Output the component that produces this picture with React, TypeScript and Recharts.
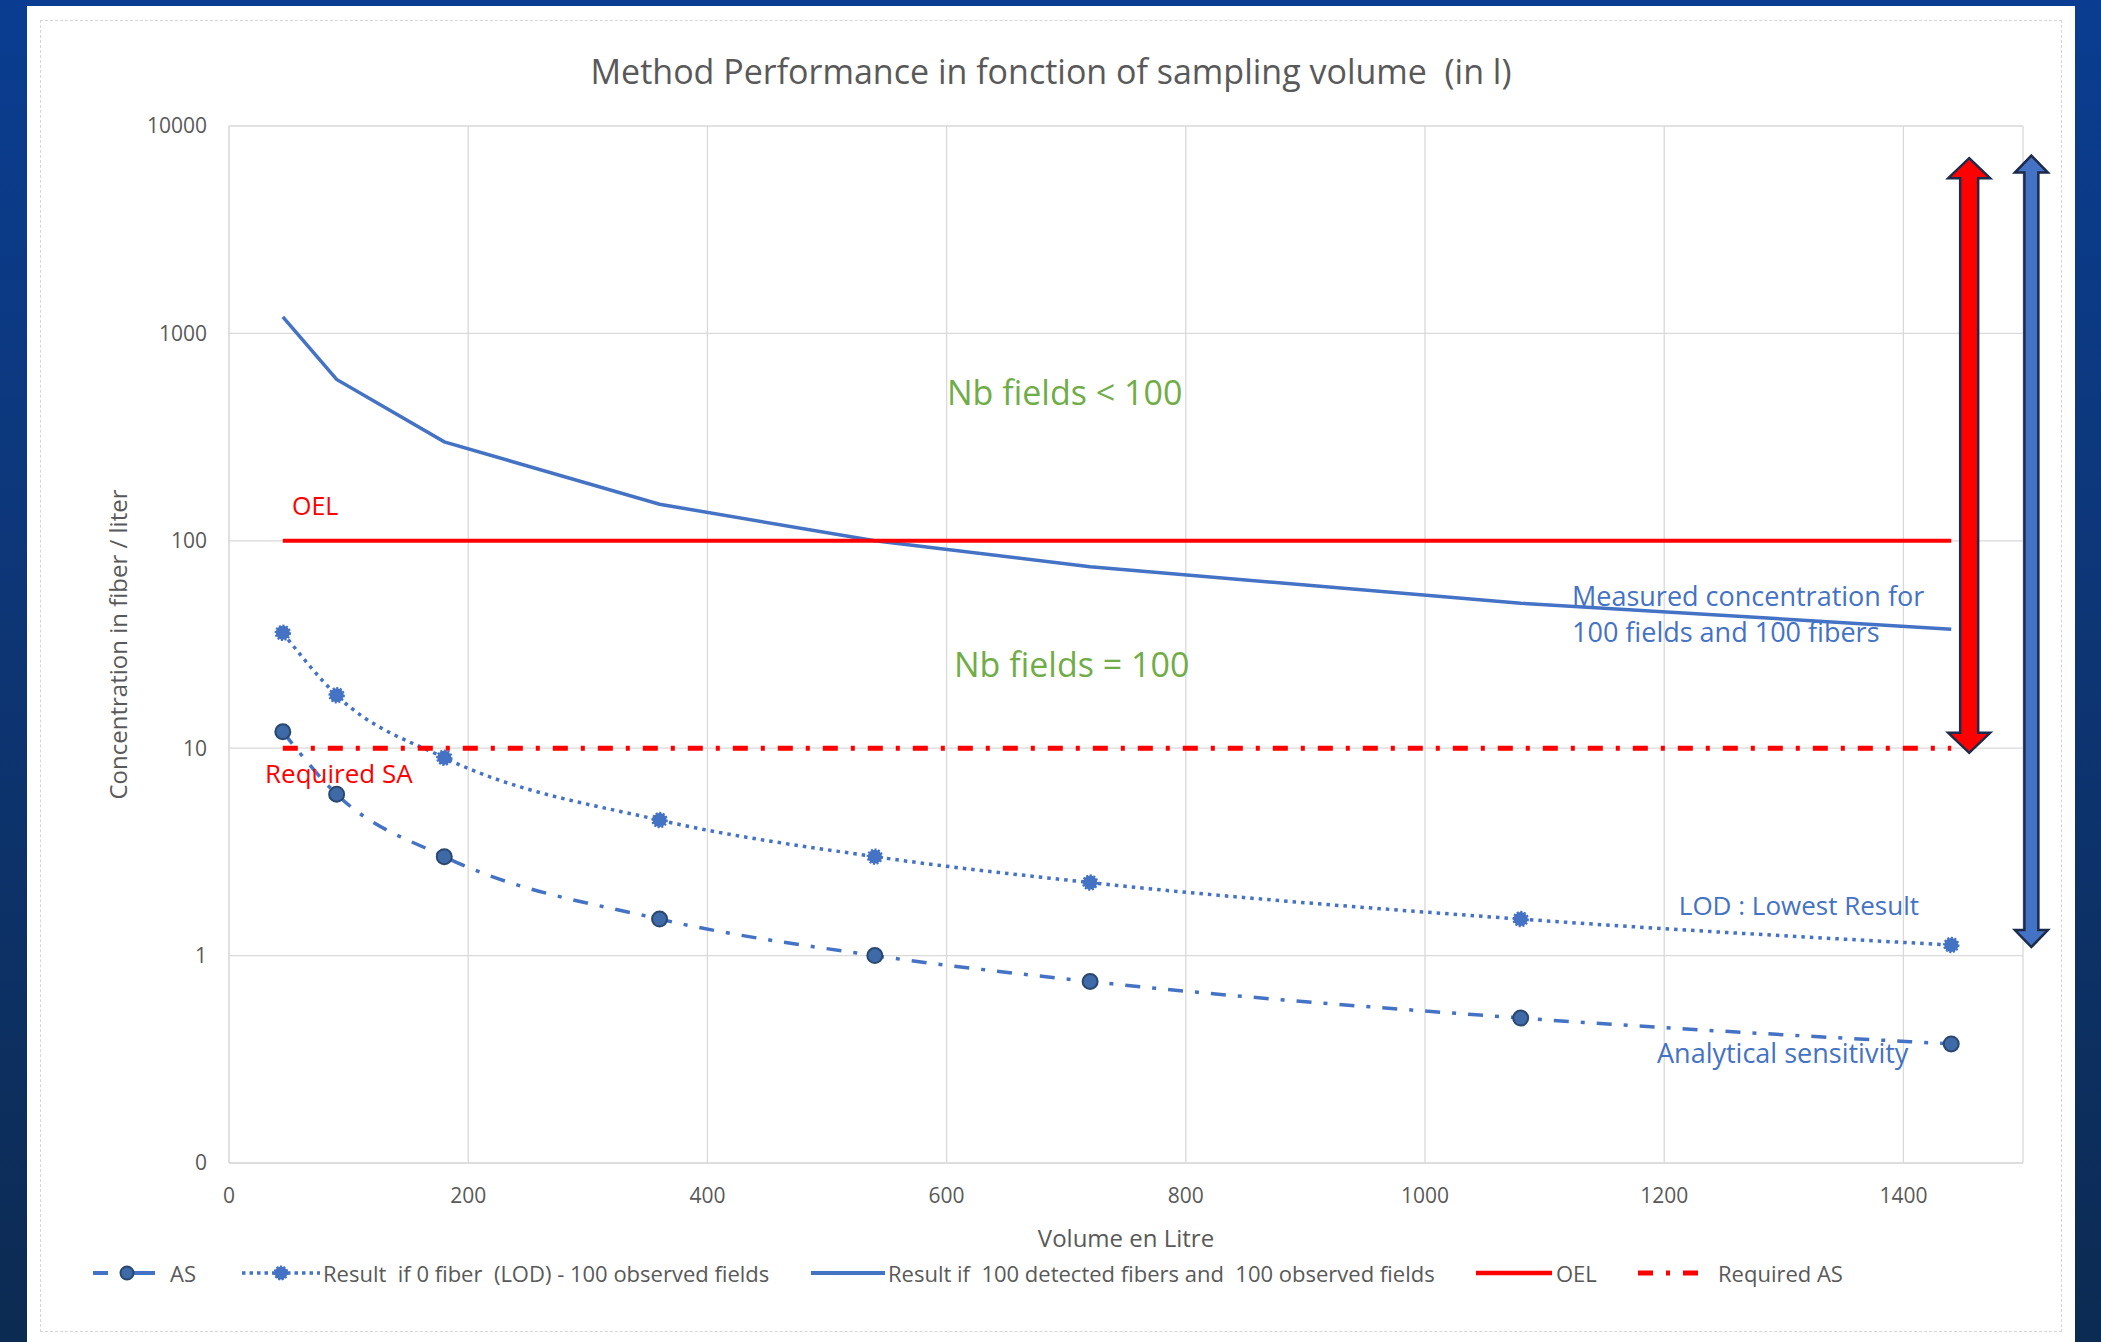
import React from 'react';
import { LineChart, Line, XAxis, YAxis, CartesianGrid, Legend, ReferenceLine } from 'recharts';

const FONT = '"Open Sans", "Noto Sans", sans-serif';
const BLUE = '#4472C4';
const RED = '#FF0000';
const GREEN = '#70AD47';
const GREY = '#595959';

// sampling volumes (l)
const volumes = [45, 90, 180, 360, 540, 720, 1080, 1440];
// concentrations (fiber / l)
const asValues = [12, 6, 3, 1.5, 1, 0.75, 0.5, 0.375];
const lodValues = [36, 18, 9, 4.5, 3, 2.25, 1.5, 1.125];
const measuredValues = [1200, 600, 300, 150, 100, 75, 50, 37.5];
const oelValues = [100, 100, 100, 100, 100, 100, 100, 100];
const requiredAsValues = [10, 10, 10, 10, 10, 10, 10, 10];

const xTicks = [0, 200, 400, 600, 800, 1000, 1200, 1400];
const yTicks = [0.1, 1, 10, 100, 1000, 10000];

// double arrows on the right (volume, top value, bottom value)
const redArrow = { x: 1455, from: 7000, to: 9.5 };
const blueArrow = { x: 1507, from: 7200, to: 1.1 };

const legendLabels = [
  'AS',
  'Result  if 0 fiber  (LOD) - 100 observed fields',
  'Result if  100 detected fibers and  100 observed fields',
  'OEL',
  'Required AS',
];

const data = volumes.map((v, i) => ({
  volume: v,
  as: asValues[i],
  lod: lodValues[i],
  measured: measuredValues[i],
  oel: oelValues[i],
  requiredAs: requiredAsValues[i],
}));

const AsDot = (props: any) => {
  const { cx, cy, index } = props;
  if (cx == null || cy == null) return null;
  return <circle key={`as-${index}`} cx={cx} cy={cy} r={7.5} fill="#3E6AA7" stroke="#2A4770" strokeWidth={2} />;
};

const LodDot = (props: any) => {
  const { cx, cy, index } = props;
  if (cx == null || cy == null) return null;
  return (
    <circle key={`lod-${index}`} cx={cx} cy={cy} r={7} fill={BLUE} stroke={BLUE} strokeWidth={2.5} strokeDasharray="2 1.6" />
  );
};

const doubleArrow = (fill: string, shaft: number, head: number, headLen: number) => (props: any) => {
  const { x1, y1, y2 } = props;
  const top = Math.min(y1, y2);
  const bottom = Math.max(y1, y2);
  const pts = [
    [x1, top],
    [x1 + head / 2, top + headLen],
    [x1 + shaft / 2, top + headLen],
    [x1 + shaft / 2, bottom - headLen],
    [x1 + head / 2, bottom - headLen],
    [x1, bottom],
    [x1 - head / 2, bottom - headLen],
    [x1 - shaft / 2, bottom - headLen],
    [x1 - shaft / 2, top + headLen],
    [x1 - head / 2, top + headLen],
  ];
  return <polygon points={pts.map((p) => p.join(',')).join(' ')} fill={fill} stroke="#1D2B4A" strokeWidth={2.5} />;
};

const legendIcon = (i: number) => {
  switch (i) {
    case 0:
      return (
        <g>
          <line x1={0} y1={10} x2={15} y2={10} stroke={BLUE} strokeWidth={4} />
          <line x1={40} y1={10} x2={62} y2={10} stroke={BLUE} strokeWidth={4} />
          <circle cx={34} cy={10} r={6.5} fill="#3E6AA7" stroke="#2A4770" strokeWidth={2} />
        </g>
      );
    case 1:
      return (
        <g>
          <line x1={0} y1={10} x2={78} y2={10} stroke={BLUE} strokeWidth={3.5} strokeDasharray="3.5 4" />
          <circle cx={39} cy={10} r={6.5} fill={BLUE} stroke={BLUE} strokeWidth={2} strokeDasharray="2 1.6" />
        </g>
      );
    case 2:
      return <line x1={0} y1={10} x2={74} y2={10} stroke={BLUE} strokeWidth={4} />;
    case 3:
      return <line x1={0} y1={10} x2={76} y2={10} stroke={RED} strokeWidth={4.5} />;
    default:
      return <line x1={0} y1={10} x2={64} y2={10} stroke={RED} strokeWidth={5} strokeDasharray="15 13 4 13" />;
  }
};

const iconX = [93, 242, 811, 1476, 1638];
const textX = [170, 323, 888, 1556, 1718];

const renderLegend = () => (
  <div style={{ position: 'relative', width: 2101, height: 34, fontFamily: FONT, fontSize: 22, color: GREY }}>
    {legendLabels.map((label, i) => (
      <React.Fragment key={label}>
        <svg style={{ position: 'absolute', left: iconX[i], top: 7 }} width={80} height={20}>
          {legendIcon(i)}
        </svg>
        <span style={{ position: 'absolute', left: textX[i], top: 0, lineHeight: '34px', whiteSpace: 'pre' }}>{label}</span>
      </React.Fragment>
    ))}
  </div>
);

const note = (extra: React.CSSProperties): React.CSSProperties => ({
  position: 'absolute',
  lineHeight: 1,
  whiteSpace: 'pre',
  ...extra,
});

export default function App() {
  return (
    <div
      style={{
        position: 'relative',
        width: 2101,
        height: 1342,
        overflow: 'hidden',
        fontFamily: FONT,
        background: 'linear-gradient(180deg, #0A3D91 0%, #0D3676 45%, #0C2B52 100%)',
      }}
    >
      <style>{'body{margin:0}'}</style>
      <div style={{ position: 'absolute', left: 27, top: 6, width: 2048, height: 1336, background: '#FFFFFF' }} />
      <div
        style={{
          position: 'absolute',
          left: 40,
          top: 20,
          width: 2022,
          height: 1312,
          border: '1.5px dashed #D6D6D6',
          boxSizing: 'border-box',
        }}
      />

      <div style={{ position: 'absolute', left: 27, top: 48, width: 2048, textAlign: 'center' }}>
        <span style={{ fontSize: 34, color: GREY, whiteSpace: 'pre' }}>
          Method Performance in fonction of sampling volume  (in l)
        </span>
      </div>

      <div style={{ position: 'absolute', left: 0, top: 0 }}>
        <LineChart width={2101} height={1342} data={data} margin={{ top: 126, right: 78, bottom: 89, left: 100 }}>
          <CartesianGrid stroke="#D9D9D9" strokeWidth={1.3} />
          <XAxis
            dataKey="volume"
            type="number"
            domain={[0, 1500]}
            ticks={xTicks}
            height={90}
            axisLine={{ stroke: '#D9D9D9' }}
            tickLine={false}
            tickSize={0}
            tickMargin={25}
            tick={{ fill: GREY, fontSize: 21, fontFamily: FONT }}
            label={{ value: 'Volume en Litre', position: 'insideBottom', offset: 6, fill: GREY, fontSize: 24, fontFamily: FONT }}
          />
          <YAxis
            scale="log"
            domain={[0.1, 10000]}
            ticks={yTicks}
            allowDataOverflow
            width={129}
            axisLine={{ stroke: '#D9D9D9' }}
            tickLine={false}
            tickSize={0}
            tickMargin={22}
            tickFormatter={(v: number) => (v < 1 ? '0' : String(v))}
            tick={{ fill: GREY, fontSize: 21, fontFamily: FONT }}
            label={{
              value: 'Concentration in fiber / liter',
              angle: -90,
              position: 'insideLeft',
              offset: 18,
              style: { textAnchor: 'middle', fill: GREY, fontSize: 24, fontFamily: FONT },
            }}
          />
          <Legend verticalAlign="middle" align="center" layout="horizontal" wrapperStyle={{ top: 1256, left: 0, width: 2101, height: 34 }} content={renderLegend} />
          <Line
            type="monotone"
            dataKey="as"
            stroke={BLUE}
            strokeWidth={3.5}
            strokeDasharray="15 12 4 12"
            dot={AsDot}
            activeDot={false}
            isAnimationActive={false}
          />
          <Line
            type="monotone"
            dataKey="lod"
            stroke={BLUE}
            strokeWidth={3.5}
            strokeDasharray="3.5 5"
            dot={LodDot}
            activeDot={false}
            isAnimationActive={false}
          />
          <Line type="linear" dataKey="measured" stroke={BLUE} strokeWidth={3.5} dot={false} activeDot={false} isAnimationActive={false} />
          <Line type="linear" dataKey="oel" stroke={RED} strokeWidth={4} dot={false} activeDot={false} isAnimationActive={false} />
          <Line
            type="linear"
            dataKey="requiredAs"
            stroke={RED}
            strokeWidth={5}
            strokeDasharray="15 13 4 13"
            dot={false}
            activeDot={false}
            isAnimationActive={false}
          />
          <ReferenceLine
            segment={[
              { x: redArrow.x, y: redArrow.from },
              { x: redArrow.x, y: redArrow.to },
            ]}
            ifOverflow="visible"
            shape={doubleArrow(RED, 18, 42, 20)}
          />
          <ReferenceLine
            segment={[
              { x: blueArrow.x, y: blueArrow.from },
              { x: blueArrow.x, y: blueArrow.to },
            ]}
            ifOverflow="visible"
            shape={doubleArrow(BLUE, 14, 33, 17)}
          />
        </LineChart>
      </div>

      <div style={note({ left: 292, top: 493, fontSize: 25, color: RED })}>OEL</div>
      <div style={note({ left: 265, top: 760, fontSize: 26, color: RED })}>Required SA</div>
      <div style={note({ left: 947, top: 375, fontSize: 34, color: GREEN })}>{'Nb fields < 100'}</div>
      <div style={note({ left: 954, top: 647, fontSize: 34, color: GREEN })}>Nb fields = 100</div>
      <div style={note({ left: 1572, top: 578, fontSize: 27, color: BLUE, lineHeight: '36px' })}>
        {'Measured concentration for\n100 fields and 100 fibers'}
      </div>
      <div style={note({ right: 182, top: 892, fontSize: 26, color: BLUE })}>LOD : Lowest Result</div>
      <div style={note({ left: 1657, top: 1039, fontSize: 27, color: BLUE })}>Analytical sensitivity</div>
    </div>
  );
}
